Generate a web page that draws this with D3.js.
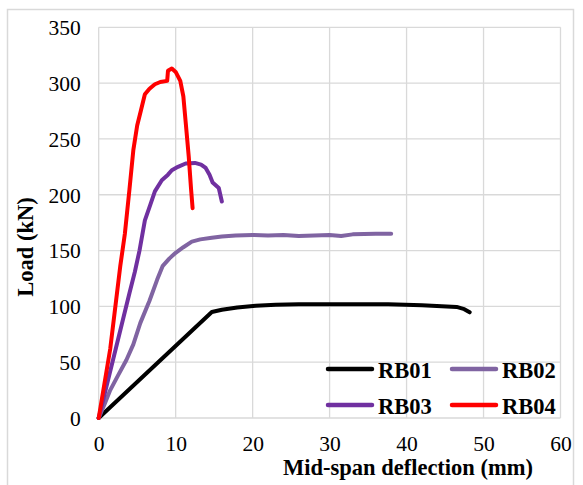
<!DOCTYPE html>
<html>
<head>
<meta charset="utf-8">
<script src="https://cdn.jsdelivr.net/npm/d3@7"></script>
<style>
  body { margin: 0; background: #fff; }
  text { font-family: "Liberation Serif", "Times New Roman", serif; }
</style>
</head>
<body>
<div id="chart"></div>
<script>
// load-deflection curves
var RB01_X = [0, 14.7, 16, 18, 20.4, 23, 26, 30, 37.6, 42, 46.5, 47.5, 48.2],
RB01_Y = [0, 95, 97, 99, 100.5, 101.5, 102, 102, 102, 101, 99.5, 97.5, 94.7],
RB02_X = [0, 0.8, 1.5, 2.5, 3.6, 4.5, 5.4, 6.6, 7.6, 8.3, 9.2, 10, 11, 12.1, 13.2, 14.7, 16, 17.8, 20, 22, 24, 26, 28, 30, 31.5, 33, 36, 38],
RB02_Y = [0, 13, 25, 38, 52, 66, 85, 105, 124, 136, 143, 148, 153, 158, 160, 161.5, 162.5, 163.5, 164, 163.5, 164, 163, 163.5, 164, 163, 164.5, 165, 165],
RB03_X = [0, 1, 2, 3, 4, 4.7, 5.3, 6, 6.7, 7.3, 8.2, 9, 9.5, 10.3, 11.3, 12.5, 13.3, 13.9, 14.4, 14.8, 15.6, 16],
RB03_Y = [0, 28, 56, 84, 112, 131, 150, 177, 191, 203, 213, 218, 222, 225, 228, 228.5, 227, 224, 218, 211, 206, 194],
RB04_X = [0, 1.5, 2.8, 3.4, 4, 4.5, 5, 5.5, 6, 6.6, 7.3, 8, 8.9, 9, 9.5, 10, 10.6, 11, 11.3, 11.7, 12, 12.2],
RB04_Y = [0, 62, 136, 165, 205, 240, 262, 276, 290, 295, 299, 301, 302, 311, 313, 310, 302, 288, 265, 234, 205, 188];

var NAMES = ["RB01", "RB02", "RB03", "RB04"],
COLORS = ["#000000", "#8064a2", "#7030a0", "#ff0000"],
X_TICKS = [0, 10, 20, 30, 40, 50, 60],
Y_TICKS = [0, 50, 100, 150, 200, 250, 300, 350];

var series = [
  {name: NAMES[0], x: RB01_X, y: RB01_Y},
  {name: NAMES[1], x: RB02_X, y: RB02_Y},
  {name: NAMES[2], x: RB03_X, y: RB03_Y},
  {name: NAMES[3], x: RB04_X, y: RB04_Y}
];

var W = 583, H = 485,
LEFT = 98.7, RIGHT = 560.5, TOP = 27.3, BOTTOM = 418;

var svg = d3.select("#chart").append("svg")
  .attr("width", W)
  .attr("height", H);

// outer chart border
svg.append("rect")
  .attr("x", 7.5).attr("y", 9.5)
  .attr("width", 566).attr("height", 490)
  .style("fill", "none")
  .style("stroke", "#d9d9d9")
  .style("stroke-width", 1.5);

var x = d3.scaleLinear().domain([0, 60]).range([LEFT, RIGHT]),
y = d3.scaleLinear().domain([0, 350]).range([BOTTOM, TOP]);

// gridlines
svg.append("g")
  .selectAll("line.vg").data(X_TICKS).enter().append("line")
  .attr("x1", function(d) { return x(d); })
  .attr("x2", function(d) { return x(d); })
  .attr("y1", TOP).attr("y2", BOTTOM)
  .style("stroke", "#d9d9d9").style("stroke-width", 1.3);
svg.append("g")
  .selectAll("line.hg").data(Y_TICKS).enter().append("line")
  .attr("x1", LEFT).attr("x2", RIGHT)
  .attr("y1", function(d) { return y(d); })
  .attr("y2", function(d) { return y(d); })
  .style("stroke", "#d9d9d9").style("stroke-width", 1.3);

// tick labels via axes, with the domain and tick marks hidden
var xAxis = svg.append("g")
  .attr("transform", "translate(0," + BOTTOM + ")")
  .call(d3.axisBottom(x).tickValues(X_TICKS).tickSize(0).tickPadding(18));
var yAxis = svg.append("g")
  .attr("transform", "translate(" + LEFT + ",0)")
  .call(d3.axisLeft(y).tickValues(Y_TICKS).tickSize(0).tickPadding(18));
[xAxis, yAxis].forEach(function(a) {
  a.select(".domain").remove();
  a.selectAll("text")
    .style("font-family", "'Liberation Serif', serif")
    .style("font-size", "21.5px")
    .style("fill", "#000");
});
yAxis.selectAll("text").attr("dy", "0.34em");
xAxis.selectAll("text").attr("dy", "0.71em");

// curves
var line = d3.line()
  .x(function(d) { return x(d[0]); })
  .y(function(d) { return y(d[1]); });

series.forEach(function(s, i) {
  var pts = s.x.map(function(v, j) { return [v, s.y[j]]; });
  svg.append("path")
    .datum(pts)
    .attr("d", line)
    .style("fill", "none")
    .style("stroke", COLORS[i])
    .style("stroke-width", 4)
    .style("stroke-linejoin", "round")
    .style("stroke-linecap", "round");
});

// legend
var LEG_X = [328, 452], LEG_Y = [369, 405];
NAMES.forEach(function(n, i) {
  var lx = LEG_X[i % 2], ly = LEG_Y[Math.floor(i / 2)];
  svg.append("line")
    .attr("x1", lx).attr("x2", lx + 44)
    .attr("y1", ly).attr("y2", ly)
    .style("stroke", COLORS[i])
    .style("stroke-width", 4.5)
    .style("stroke-linecap", "round");
  svg.append("text")
    .attr("x", lx + 50).attr("y", ly + 8.5)
    .style("font-size", "22.5px")
    .style("font-weight", "bold")
    .text(n);
});

// axis titles
svg.append("text")
  .attr("x", 408).attr("y", 475)
  .attr("text-anchor", "middle")
  .style("font-size", "22.5px")
  .style("font-weight", "bold")
  .text("Mid-span deflection (mm)");
svg.append("text")
  .attr("transform", "translate(33,247) rotate(-90)")
  .attr("text-anchor", "middle")
  .style("font-size", "22.5px")
  .style("font-weight", "bold")
  .text("Load (kN)");
</script>
</body>
</html>
